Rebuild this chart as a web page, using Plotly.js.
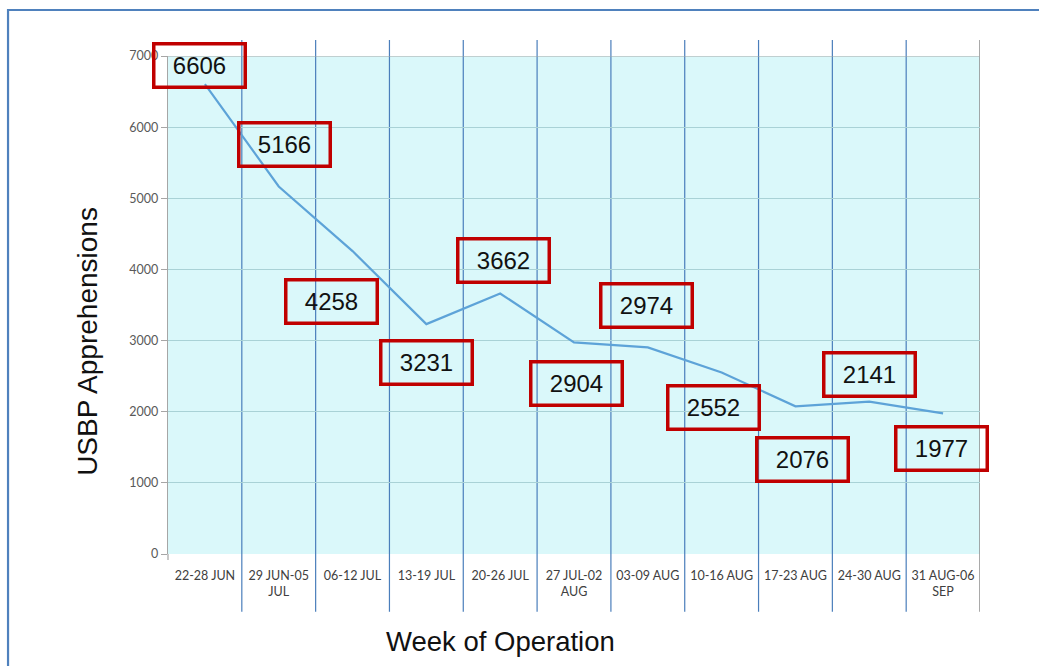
<!DOCTYPE html>
<html>
<head>
<meta charset="utf-8">
<script src="https://cdn.plot.ly/plotly-3.0.1.min.js"></script>
<style>
  html, body { margin: 0; padding: 0; background: #ffffff; }
  #chart { width: 1039px; height: 666px; }
</style>
</head>
<body>
<div id="chart"></div>
<script>
// ---- data ----
const weeks = ['22-28 JUN', '29 JUN-05<br>JUL', '06-12 JUL', '13-19 JUL', '20-26 JUL',
               '27 JUL-02<br>AUG', '03-09 AUG', '10-16 AUG', '17-23 AUG', '24-30 AUG', '31 AUG-06<br>SEP'];
const apprehensions = [6606, 5166, 4258, 3231, 3662, 2974, 2904, 2552, 2076, 2141, 1977];
const yTicks = [0, 1000, 2000, 3000, 4000, 5000, 6000, 7000];
const xTitle = 'Week of Operation';
const yTitle = 'USBP Apprehensions';

// ---- label box placement (paper coordinates, layout only) ----
const boxX = [0.039, 0.144, 0.201, 0.318, 0.413, 0.589, 0.503, 0.672, 0.781, 0.864, 0.952];
const boxY = [0.981, 0.822, 0.507, 0.384, 0.589, 0.499, 0.342, 0.294, 0.190, 0.360, 0.212];

const boundaries = weeks.map((w, i) => i + 0.5);

const shapes = [];
// outer frame
shapes.push({type: 'path', xref: 'paper', yref: 'paper',
  path: 'M -0.197 -0.3 L -0.197 1.0924 L 1.2 1.0924',
  line: {color: '#4F81BD', width: 2.2}, layer: 'above'});
// category separators
boundaries.forEach((b, i) => {
  const last = i === boundaries.length - 1;
  shapes.push({type: 'line', xref: 'x', yref: 'paper', x0: b, x1: b,
    y0: -0.116, y1: 1.032,
    line: {color: last ? '#8C8C8C' : '#4A7EBB', width: last ? 1.5 : 1.2},
    layer: 'below'});
});
// top border
shapes.push({type: 'line', xref: 'paper', yref: 'y', x0: 0, x1: 1, y0: 7000, y1: 7000,
  line: {color: '#A6A6A6', width: 1.2}, layer: 'below'});
// small tick at left edge bottom
shapes.push({type: 'line', xref: 'paper', yref: 'paper', x0: 0, x1: 0, y0: -0.012, y1: 0,
  line: {color: '#A6A6A6', width: 1.2}});

const annotations = apprehensions.map((v, i) => ({
  xref: 'paper', yref: 'paper', x: boxX[i], y: boxY[i],
  xanchor: 'center', yanchor: 'middle',
  text: String(v), showarrow: false,
  font: {family: 'Liberation Sans, Arial, sans-serif', size: 24, color: '#111111'},
  width: 88, height: 40, borderpad: 0,
  bordercolor: '#C00000', borderwidth: 3.5, bgcolor: 'rgba(0,0,0,0)'
}));
// axis titles (placed as in the reference)
annotations.push({xref: 'paper', yref: 'paper', x: 0.409, y: -0.175,
  xanchor: 'center', yanchor: 'middle', showarrow: false, text: xTitle,
  font: {family: 'Liberation Sans, Arial, sans-serif', size: 27.5, color: '#111111'}});
annotations.push({xref: 'paper', yref: 'paper', x: -0.0985, y: 0.426,
  xanchor: 'center', yanchor: 'middle', showarrow: false, text: yTitle, textangle: -90,
  font: {family: 'Liberation Sans, Arial, sans-serif', size: 28, color: '#111111'}});

const trace = {
  x: weeks, y: apprehensions, type: 'scatter', mode: 'lines',
  line: {color: '#5DA3D8', width: 2.2},
  hoverinfo: 'x+y'
};

const layout = {
  width: 1039, height: 666,
  margin: {l: 168, r: 59, t: 56, b: 112},
  paper_bgcolor: '#ffffff',
  plot_bgcolor: '#DAF8FA',
  showlegend: false,
  xaxis: {
    type: 'category', range: [-0.5, 10.5],
    showgrid: false, zeroline: false, showline: false,
    ticks: '', tickfont: {family: 'Lato, sans-serif', size: 12.5, color: '#404040'},
    tickangle: 0, ticklabelstandoff: 12,
    automargin: false
  },
  yaxis: {
    range: [0, 7000], tickvals: yTicks, ticktext: yTicks.map(String),
    showgrid: true, gridcolor: '#A9D2D6', gridwidth: 1,
    zeroline: false, showline: true, linecolor: '#A6A6A6', linewidth: 1.2,
    ticks: 'outside', ticklen: 6, tickcolor: '#A6A6A6',
    tickfont: {family: 'Lato, sans-serif', size: 12.5, color: '#595959'},
    automargin: false
  },
  shapes: shapes,
  annotations: annotations
};

Plotly.newPlot('chart', [trace], layout, {displayModeBar: false, staticPlot: true});
</script>
</body>
</html>
